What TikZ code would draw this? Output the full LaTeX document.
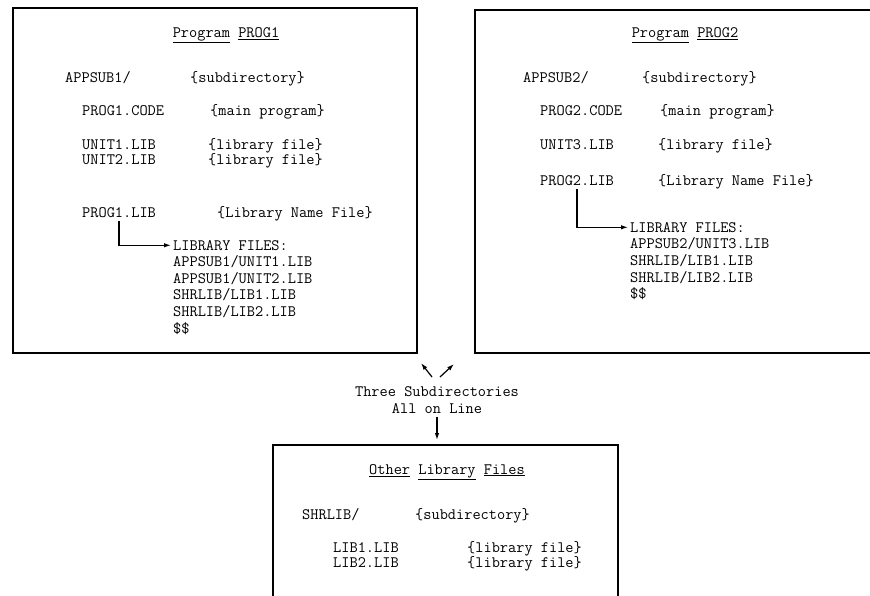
\documentclass[tikz,border=0pt]{standalone}
\usepackage{tikz}
\usetikzlibrary{arrows.meta, calc, positioning}

\tikzset{
  panel/.style={draw, line width=2pt, inner sep=0pt},
  ftxt/.style={anchor=mid west, inner sep=0pt, font=\ttfamily\fontsize{15.9}{16.6}\selectfont},
  ctxt/.style={ftxt, anchor=center, align=center},
  arr/.style={-{Latex[length=7pt,width=4.5pt]}, line width=1.2pt},
}

\begin{document}
\begin{tikzpicture}[x=1pt, y=-1pt]
    \clip (0,0) rectangle (870,595);
    % the three directory boxes
    \node[panel, minimum width=404, minimum height=345] (box1) at (215,180.5) {};
    \node[panel, minimum width=420, minimum height=343] (box2) at (685,181.5) {};
    \node[panel, minimum width=345, minimum height=175] (box3) at (445.5,532.5) {};
    % program PROG1
    \node[ctxt] (p1title) at (226,35) {\underline{Program} \underline{PROG1}};
    \node[ftxt] (p1dir) at (65,80) {APPSUB1/};
    \node[ftxt] (p1dirc) at (190,80) {\{subdirectory\}};
    \node[ftxt] (p1code) at (82,113) {PROG1.CODE};
    \node[ftxt] (p1codec) at (210,113) {\{main program\}};
    \node[ftxt] (p1u1) at (82,147) {UNIT1.LIB};
    \node[ftxt] (p1u1c) at (208,147) {\{library file\}};
    \node[ftxt] (p1u2) at (82,162) {UNIT2.LIB};
    \node[ftxt] (p1u2c) at (208,162) {\{library file\}};
    \node[ftxt] (p1lib) at (82,215) {PROG1.LIB};
    \node[ftxt] (p1libc) at (217,215) {\{Library Name File\}};
    \foreach \f [count=\i from 0] in {LIBRARY FILES:, APPSUB1/UNIT1.LIB, APPSUB1/UNIT2.LIB, SHRLIB/LIB1.LIB, SHRLIB/LIB2.LIB, \$\$}
        \node[ftxt] (p1f\i) at (173,248+16.6*\i) {\f};
    \draw[arr, shorten >=2pt] ([yshift=-3.5pt]p1lib.south) |- (p1f0.west);
    % program PROG2
    \node[ctxt] (p2title) at (685,35) {\underline{Program} \underline{PROG2}};
    \node[ftxt] (p2dir) at (523,80) {APPSUB2/};
    \node[ftxt] (p2dirc) at (642,80) {\{subdirectory\}};
    \node[ftxt] (p2code) at (540,113) {PROG2.CODE};
    \node[ftxt] (p2codec) at (660,113) {\{main program\}};
    \node[ftxt] (p2u3) at (540,147) {UNIT3.LIB};
    \node[ftxt] (p2u3c) at (658,147) {\{library file\}};
    \node[ftxt] (p2lib) at (540,183) {PROG2.LIB};
    \node[ftxt] (p2libc) at (658,183) {\{Library Name File\}};
    \foreach \f [count=\i from 0] in {LIBRARY FILES:, APPSUB2/UNIT3.LIB, SHRLIB/LIB1.LIB, SHRLIB/LIB2.LIB, \$\$}
        \node[ftxt] (p2f\i) at (630,230+16.7*\i) {\f};
    \draw[arr, shorten >=2pt] ([yshift=-3.5pt]p2lib.south) |- (p2f0.west);
    % shared libraries
    \node[ctxt] (p3title) at (447,472) {\underline{Other} \underline{Library} \underline{Files}};
    \node[ftxt] (p3dir) at (302,517) {SHRLIB/};
    \node[ftxt] (p3dirc) at (415,517) {\{subdirectory\}};
    \node[ftxt] (p3l1) at (333,550) {LIB1.LIB};
    \node[ftxt] (p3l1c) at (467,550) {\{library file\}};
    \node[ftxt] (p3l2) at (333,565) {LIB2.LIB};
    \node[ftxt] (p3l2c) at (467,565) {\{library file\}};
    % all on line
    \node[ctxt] (note) at (437,400) {Three Subdirectories\\All on Line};
    \coordinate (upl) at (432,377);
    \coordinate (upltip) at (421,363);
    \coordinate (upr) at (440,377);
    \coordinate (uprtip) at (454,364);
    \draw[arr] (upl) -- (upltip);
    \draw[arr] (upr) -- (uprtip);
    \draw[arr, shorten <=3pt, shorten >=4pt] (note.south) -- (note.south |- box3.north);
\end{tikzpicture}
\end{document}
